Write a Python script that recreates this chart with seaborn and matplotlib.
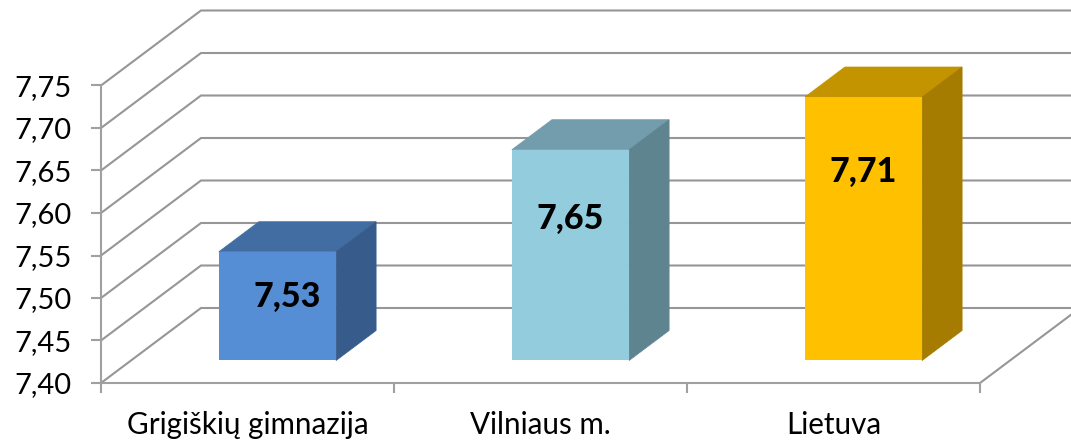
import matplotlib
matplotlib.use("Agg")
import matplotlib.pyplot as plt
from matplotlib.patches import Polygon
import seaborn as sns
import numpy as np

# data
categories = ["Grigiškių gimnazija", "Vilniaus m.", "Lietuva"]
values = [7.528, 7.648, 7.71]
y_ticks = [7.40, 7.45, 7.50, 7.55, 7.60, 7.65, 7.70, 7.75]

front_colors = ["#558ED5", "#93CDDD", "#FFC000"]
top_colors = ["#426DA3", "#739CAC", "#C49300"]
side_colors = ["#375C8C", "#5E8490", "#A67C00"]
grid_color = "#969696"
axis_color = "#A0A0A0"

sns.set_theme(style="white")
plt.rcParams["font.family"] = ["Lato", "DejaVu Sans"]

W, H = 1071, 445
fig = plt.figure(figsize=(W / 100, H / 100), dpi=100)
# axes = the front plane of the fake 3D box
ax = fig.add_axes([101 / W, 1 - 383 / H, (980 - 101) / W, (383 - 85.5) / H])

sns.barplot(x=categories, y=values, hue=categories, palette=front_colors,
            saturation=1, width=0.4, legend=False, ax=ax, zorder=3, linewidth=0)
ax.set_xlim(-0.5, 2.5)
ax.set_ylim(y_ticks[0], y_ticks[-1])

# one unit of depth = full box depth, in data units
DX = 100 / 293
DY = 75 / (297.5 / (y_ticks[-1] - y_ticks[0]))
x0, x1 = ax.get_xlim()
base = y_ticks[0]


def project(x, v, d):
    return x + d * DX, v + d * DY


# walls: diagonal on the left, then a line along the back
for t in y_ticks:
    bx, by = project(x0, t, 1)
    ex, ey = project(x1, t, 1)
    ax.plot([x0, bx, ex], [t, by, ey], color=grid_color, lw=1.5, clip_on=False, zorder=1,
            solid_joinstyle="miter")

# floor edge on the right
rx, ry = project(x1, base, 1)
ax.plot([x1, rx], [base, ry], color=grid_color, lw=1.5, clip_on=False, zorder=1)

# bars sit inside the box, from depth d0 to d1
d0, d1 = 0.30, 0.70
for i, bar in enumerate(ax.patches[:len(values)]):
    left = bar.get_x() + d0 * DX
    right = left + bar.get_width()
    top = values[i] + d0 * DY
    bottom = base + d0 * DY
    bar.set_x(left)
    bar.set_y(bottom)
    bar.set_height(values[i] - base)
    bar.set_clip_on(False)

    ddx = (d1 - d0) * DX
    ddy = (d1 - d0) * DY
    ax.add_patch(Polygon([(left, top), (right, top), (right + ddx, top + ddy), (left + ddx, top + ddy)],
                         closed=True, facecolor=top_colors[i], edgecolor=top_colors[i], lw=0.5,
                         clip_on=False, zorder=2.9))
    ax.add_patch(Polygon([(right, bottom), (right, top), (right + ddx, top + ddy), (right + ddx, bottom + ddy)],
                         closed=True, facecolor=side_colors[i], edgecolor=side_colors[i], lw=0.5,
                         clip_on=False, zorder=2.9))

# value labels, placed by hand in the original
label_frac = [0.587, 0.673, 0.716]
label_dx = [0.032, 0, 0]
for i, v in enumerate(values):
    bar = ax.patches[i]
    ax.text(bar.get_x() + bar.get_width() / 2 + label_dx[i],
            bar.get_y() + (v - base) * label_frac[i],
            f"{v:.2f}".replace(".", ","),
            ha="center", va="center", fontsize=24.5, fontweight=900, color="black", zorder=5)

# axes
for side in ["top", "right"]:
    ax.spines[side].set_visible(False)
for side in ["left", "bottom"]:
    ax.spines[side].set_color(axis_color)
    ax.spines[side].set_linewidth(1.5)

ax.set_yticks(y_ticks)
ax.set_yticklabels([f"{t:.2f}".replace(".", ",") for t in y_ticks])
ax.tick_params(axis="y", which="major", left=True, length=7.2, width=1.5, color=axis_color,
               pad=14, labelsize=21, labelcolor="black")

ax.set_xticks(range(len(categories)))
ax.set_xticklabels(categories)
ax.set_xticks(np.arange(x0, x1 + 0.5), minor=True)
ax.tick_params(axis="x", which="major", bottom=False, length=0, pad=20, labelsize=21.3, labelcolor="black")
ax.tick_params(axis="x", which="minor", bottom=True, length=7.2, width=1.5, color=axis_color)
ax.set_xlabel("")
ax.set_ylabel("")

fig.savefig("out.png", dpi=100)
